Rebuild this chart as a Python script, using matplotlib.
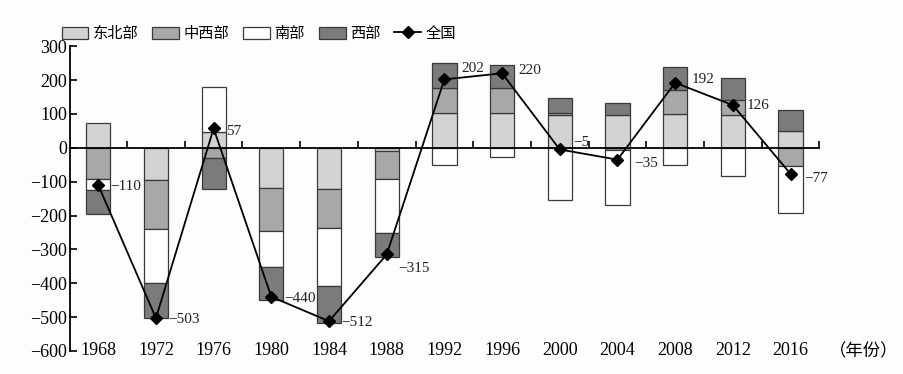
import matplotlib
matplotlib.use("Agg")
import matplotlib.pyplot as plt
from matplotlib.patches import Patch
from matplotlib.lines import Line2D
import numpy as np

plt.rcParams['font.family'] = ['Liberation Serif', 'Noto Sans CJK SC']
plt.rcParams['axes.unicode_minus'] = True

years = ["1968", "1972", "1976", "1980", "1984", "1988", "1992",
         "1996", "2000", "2004", "2008", "2012", "2016"]
region_names = ["东北部", "中西部", "南部", "西部"]
northeast = [73, -95, 47, -119, -122, -10, 102, 102, 96, 97, 99, 96, 51]
midwest = [-93, -145, -30, -127, -114, -81, 75, 75, 6, -7, 71, 46, -54]
south = [-32, -160, 132, -107, -173, -161, -52, -27, -155, -163, -51, -84, -138]
west = [-70, -103, -92, -96, -107, -70, 74, 66, 45, 34, 70, 65, 61]
national = [-110, -503, 57, -440, -512, -315, 202, 220, -5, -35, 192, 126, -77]

colors = ["#d3d3d1", "#a8a8a6", "#ffffff", "#7b7b79"]
edge = "#3a3a3a"

fig = plt.figure(figsize=(9.04, 3.74), dpi=100, facecolor="#fdfdfb")
ax = fig.add_axes([0.0774, 0.0615, 0.829, 0.815])
ax.set_facecolor("#fdfdfb")

x = np.arange(len(years))
pos_bottom = np.zeros(len(years))
neg_bottom = np.zeros(len(years))
for vals, c in zip([northeast, midwest, south, west], colors):
    v = np.array(vals, dtype=float)
    bottom = np.where(v >= 0, pos_bottom, neg_bottom)
    ax.bar(x, v, 0.42, bottom=bottom, color=c, edgecolor=edge, linewidth=0.9, zorder=2)
    pos_bottom += np.where(v >= 0, v, 0)
    neg_bottom += np.where(v < 0, v, 0)

ax.plot(x, national, color="black", linewidth=1.3, marker="D", markersize=6.5, zorder=4)

# label offsets in points
offsets = {6: (12, 8), 7: (12, 2), 10: (12, 2), 11: (10, 0), 8: (10, 5),
           5: (8, -10), 2: (9, -2), 9: (12, -3), 12: (10, -3)}
for i, v in enumerate(national):
    dx, dy = offsets.get(i, (9, -1))
    txt = str(v).replace("-", "\u2212")
    ax.annotate(txt, (x[i], v), xytext=(dx, dy), textcoords="offset points",
                ha="left", va="center", fontsize=11, color="#222222", zorder=5)

ax.set_xlim(-0.49, 12.49)
ax.set_ylim(-600, 300)
ax.set_yticks(np.arange(-600, 301, 100))
ax.tick_params(axis="y", direction="in", length=5, width=1.2, labelsize=13, pad=2)

ax.spines["top"].set_visible(False)
ax.spines["right"].set_visible(False)
ax.spines["left"].set_linewidth(1.3)
ax.spines["bottom"].set_position(("data", 0))
ax.spines["bottom"].set_linewidth(1.3)
ax.set_xticks(np.arange(0.5, 12.6, 1.0))
ax.tick_params(axis="x", direction="in", length=5, width=1.2, labelbottom=False)

for i, yr in enumerate(years):
    ax.text(x[i], -600, yr, ha="center", va="center", fontsize=13, clip_on=False)
ax.text(12.66, -600, "（年份）", ha="left", va="center", fontsize=12.5,
        family=["Noto Sans CJK SC"], clip_on=False)

handles = [Patch(facecolor=c, edgecolor=edge, linewidth=0.9) for c in colors]
handles.append(Line2D([], [], color="black", linewidth=1.3, marker="D", markersize=6))
fig.legend(handles, region_names + ["全国"], loc="center left",
           bbox_to_anchor=(0.058, 0.91), ncol=5, frameon=False,
           prop={"family": ["Noto Sans CJK SC"], "size": 11},
           handlelength=1.75, handleheight=0.85, handletextpad=0.3,
           columnspacing=0.9, borderpad=0.1)

fig.savefig("out.png", dpi=100, facecolor=fig.get_facecolor())
